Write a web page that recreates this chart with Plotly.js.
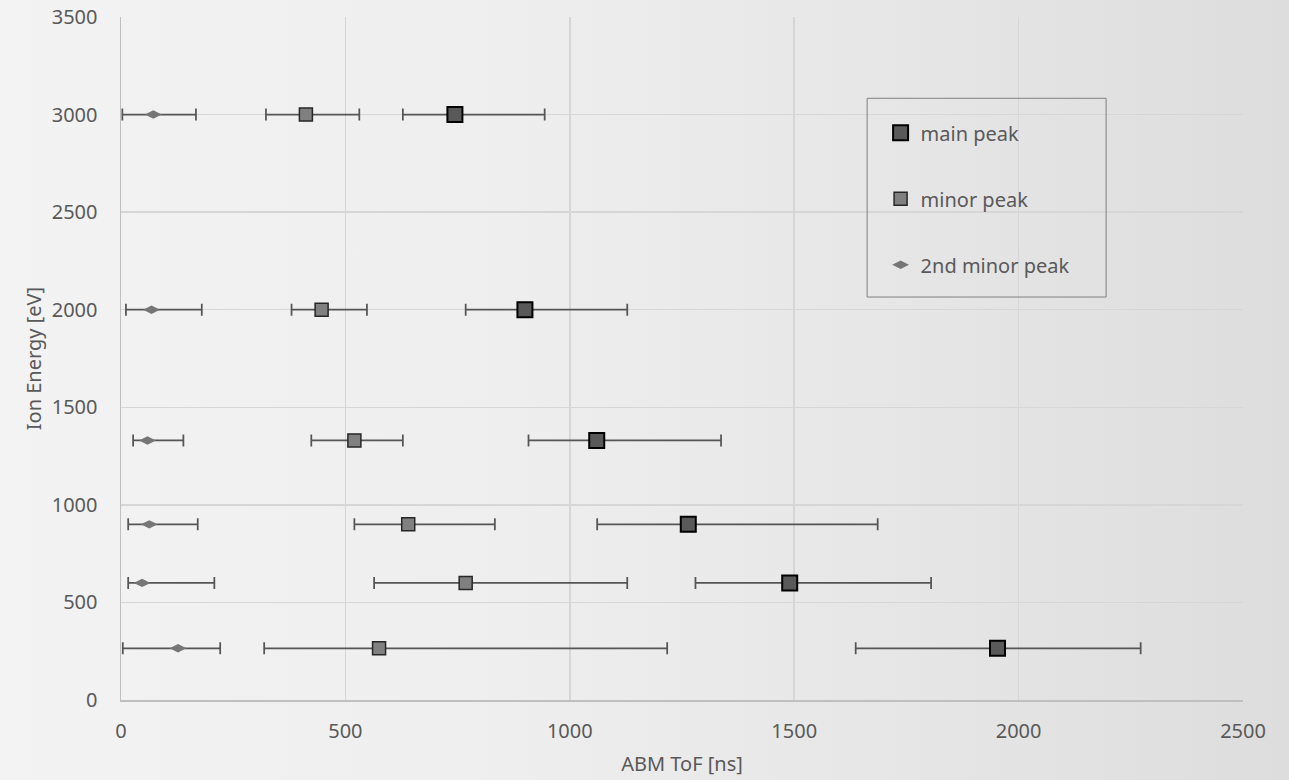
<!DOCTYPE html>
<html>
<head>
<meta charset="utf-8">
<script src="https://cdn.plot.ly/plotly-3.0.1.min.js"></script>
<style>
  html, body { margin: 0; padding: 0; }
  #wrap { width: 1289px; height: 780px; background: linear-gradient(to right, #f3f3f3 0%, #eeeeee 40%, #e6e6e6 70%, #dddddd 100%); }
  #chart { width: 1289px; height: 780px; }
</style>
</head>
<body>
<div id="wrap"><div id="chart"></div></div>
<script>
// Ion energies [eV] (y values)
const ionEnergy = [3000, 2000, 1330, 900, 600, 265];

// main peak: ToF [ns] and error-bar bounds
const mainTof   = [744, 900, 1060, 1264, 1490, 1953];
const mainLow   = [628, 768, 908, 1061, 1280, 1637];
const mainHigh  = [944, 1128, 1337, 1686, 1805, 2272];

// minor peak
const minorTof  = [412, 447, 520, 640, 768, 575];
const minorLow  = [323, 380, 424, 520, 564, 319];
const minorHigh = [531, 548, 628, 833, 1128, 1217];

// 2nd minor peak
const minor2Tof  = [72, 68, 59, 63, 47, 127];
const minor2Low  = [3, 11, 27, 16, 16, 4];
const minor2High = [167, 180, 139, 171, 208, 221];

const xTicks = [0, 500, 1000, 1500, 2000, 2500];
const yTicks = [0, 500, 1000, 1500, 2000, 2500, 3000, 3500];

function errBar(val, lo, hi) {
  return {
    type: 'data', symmetric: false,
    array: val.map((v, i) => hi[i] - v),
    arrayminus: val.map((v, i) => v - lo[i]),
    color: '#555555', thickness: 1.75, width: 6
  };
}

const font = 'Noto Sans, Open Sans, sans-serif';
const txt = '#595959';

const traces = [
  {
    name: 'main peak', x: mainTof, y: ionEnergy, type: 'scatter', mode: 'markers',
    error_x: errBar(mainTof, mainLow, mainHigh),
    marker: { symbol: 'square', size: 15, color: '#595959', line: { color: '#000000', width: 2 } },
    legendgroup: 'a'
  },
  {
    name: 'minor peak', x: minorTof, y: ionEnergy, type: 'scatter', mode: 'markers',
    error_x: errBar(minorTof, minorLow, minorHigh),
    marker: { symbol: 'square', size: 13, color: '#808080', line: { color: '#262626', width: 1.5 } },
    legendgroup: 'b'
  },
  {
    name: '2nd minor peak', x: minor2Tof, y: ionEnergy, type: 'scatter', mode: 'markers',
    error_x: errBar(minor2Tof, minor2Low, minor2High),
    marker: { symbol: 'diamond-wide', size: 12, color: '#767676', line: { width: 0 } },
    legendgroup: 'c'
  }
];

const layout = {
  width: 1289, height: 780,
  paper_bgcolor: 'rgba(0,0,0,0)', plot_bgcolor: 'rgba(0,0,0,0)',
  margin: { l: 121, r: 46, t: 17, b: 80 },
  font: { family: font, size: 20, color: txt },
  showlegend: true,
  legend: {
    x: 0.677, y: 0.859, xanchor: 'left', yanchor: 'top',
    bgcolor: 'rgba(0,0,0,0)', borderwidth: 0,
    traceorder: 'grouped', tracegroupgap: 37,
    font: { family: font, size: 20, color: txt }
  },
  xaxis: {
    range: [0, 2500], tickvals: xTicks, ticktext: xTicks.map(String),
    showgrid: true, gridcolor: '#d6d6d6', gridwidth: 1.5,
    showline: true, linecolor: '#bfbfbf', linewidth: 1.5,
    zeroline: false, ticks: '', ticklabelstandoff: 12,
    title: { text: 'ABM ToF [ns]', font: { family: font, size: 20, color: txt }, standoff: 14 }
  },
  yaxis: {
    range: [0, 3500], tickvals: yTicks, ticktext: yTicks.map(String),
    showgrid: true, gridcolor: '#d6d6d6', gridwidth: 1.5,
    showline: true, linecolor: '#bfbfbf', linewidth: 1.5,
    zeroline: false, ticks: '', ticklabelstandoff: 18,
    title: { text: 'Ion Energy [eV]', font: { family: font, size: 20, color: txt }, standoff: 4 }
  },
  shapes: [{
    type: 'rect', xref: 'paper', yref: 'paper',
    x0: 0.665, x1: 0.878, y0: 0.590, y1: 0.881,
    line: { color: '#808080', width: 1 }, fillcolor: 'rgba(0,0,0,0)'
  }]
};

Plotly.newPlot('chart', traces, layout, { displayModeBar: false, staticPlot: true });
</script>
</body>
</html>
